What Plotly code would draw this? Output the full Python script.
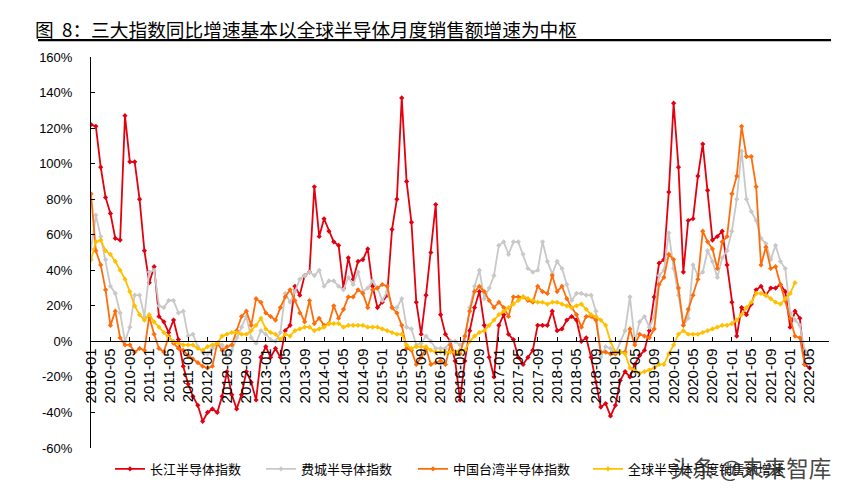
import plotly.graph_objects as go

# ---------------- data (monthly YoY growth, %) ----------------
TICK_LABELS = [
    "2010-01", "2010-05", "2010-09", "2011-01", "2011-05", "2011-09",
    "2012-01", "2012-05", "2012-09", "2013-01", "2013-05", "2013-09",
    "2014-01", "2014-05", "2014-09", "2015-01", "2015-05", "2015-09",
    "2016-01", "2016-05", "2016-09", "2017-01", "2017-05", "2017-09",
    "2018-01", "2018-05", "2018-09", "2019-01", "2019-05", "2019-09",
    "2020-01", "2020-05", "2020-09", "2021-01", "2021-05", "2021-09",
    "2022-01", "2022-05",
]

Y_TICK_VALUES = [-60, -40, -20, 0, 20, 40, 60, 80, 100, 120, 140, 160]
Y_TICK_TEXT = ["-60%", "-40%", "-20%", "0%", "20%", "40%", "60%", "80%",
               "100%", "120%", "140%", "160%"]

SERIES_NAMES = ["长江半导体指数", "费城半导体指数", "中国台湾半导体指数", "全球半导体月度销售额增速"]

changjiang = [
    122, 121, 98, 81, 72, 58, 57, 127, 101, 101, 80, 51, 33, 42, 14, 11, 5, 12, 1, -14,
    -24, -31, -36, -45, -40, -38, -40, -31, -17, -30, -38, -30, -17, -23, -33, -9, -3, -9, -4, -9,
    6, 9, 31, 26, 37, 39, 87, 59, 69, 62, 56, 54, 30, 47, 35, 45, 46, 52, 31, 19,
    22, 26, 63, 80, 137, 90, 67, 22, 4, 26, 50, 77, 15, 4, 0, -11, -33, -11, 6, 19,
    28, 9, -9, -20, 9, 15, 4, 1, -9, -13, -9, -5, 9, 9, 9, 17, 6, 7, 12, 14,
    12, 0, 2, -9, -23, -37, -35, -42, -36, -22, -17, -20, -13, -8, -5, 6, 25, 44, 46, 84,
    134, 98, 39, 68, 69, 93, 111, 85, 57, 59, 62, 43, 22, 3, 19, 15, 21, 29, 31, 26,
    30, 30, 32, 28, 8, 17, 13, -13, -15,
]

philly = [
    52, 71, 59, 46, 31, 27, 16, 0, 8, 26, 26, 14, 39, 40, 20, 19, 23, 23, 16, 17,
    3, 4, -3, -6, -7, -4, -1, -2, -9, -5, 2, 8, 14, 2, -1, 6, 4, 1, 0, 5,
    27, 22, 28, 35, 37, 39, 37, 40, 31, 34, 34, 31, 29, 36, 32, 39, 28, 30, 34, 30,
    23, 28, 19, 19, 24, 8, 7, -2, -1, 3, 0, -4, -4, -4, 0, 0, -2, 0, 19, 31,
    40, 24, 30, 37, 54, 56, 49, 56, 56, 49, 41, 39, 40, 56, 45, 38, 45, 41, 32, 23,
    27, 27, 26, 26, 17, -9, -3, -4, -7, 0, 6, 25, 0, 11, 14, 8, 14, 37, 40, 61,
    41, 26, 9, 13, 43, 37, 39, 51, 45, 36, 47, 51, 62, 80, 107, 80, 73, 68, 58, 55,
    46, 54, 45, 41, 16, 12, 9, -5, -9,
]

taiwan = [
    83, 51, 43, 29, 9, 17, 2, -2, -2, -6, -4, -5, 14, 4, -4, -6, 3, -1, -4, -5,
    -8, -10, -12, -14, -15, -14, -1, -5, -3, -2, 6, 14, 17, 9, 24, 22, 16, 14, 12, 19,
    25, 29, 23, 16, 11, 23, 10, 13, 9, 10, 20, 13, 18, 25, 25, 29, 27, 19, 29, 30,
    32, 31, 19, 16, 9, -4, -5, -13, -9, -4, -13, -12, -11, -13, -2, -7, -7, 3, 17, 28,
    31, 28, 23, 19, 22, 19, 14, 25, 25, 25, 23, 22, 31, 28, 27, 37, 28, 31, 24, 19,
    15, 8, 14, 14, 12, -6, -6, -7, -7, -6, -6, 7, -2, 4, 3, 2, 7, 32, 36, 49,
    46, 30, 9, 18, 26, 35, 62, 56, 52, 41, 56, 59, 83, 93, 121, 104, 104, 87, 43, 53,
    41, 42, 32, 23, 13, 3, 2, -13,
]

global_sales = [
    46, 56, 57, 51, 49, 45, 40, 35, 28, 20, 15, 12, 15, 11, 8, 5, 2, 0, -1, -2,
    -2, -2, -4, -5, -3, -2, -1, 3, 4, 5, 5, 4, 4, 6, 9, 13, 7, 5, 4, 1,
    4, 3, 6, 7, 8, 8, 6, 7, 8, 10, 10, 10, 8, 9, 9, 9, 9, 8, 8, 8,
    7, 6, 5, 4, 4, -2, -4, -3, -3, -3, -5, -6, -6, -6, -6, -6, -5, -5, 0, 3,
    5, 6, 9, 12, 15, 17, 19, 21, 23, 25, 24, 23, 22, 22, 21, 22, 22, 21, 20, 19,
    20, 21, 18, 15, 14, 12, 9, 0, -6, -6, -7, -15, -16, -18, -17, -16, -15, -13, -13, -7,
    -2, 4, 6, 4, 4, 4, 5, 6, 7, 8, 9, 9, 10, 12, 15, 19, 22, 27, 27, 26,
    24, 22, 21, 24, 27, 33,
]

COLORS = ["#E3000F", "#C8C8C8", "#FF6D0A", "#FFC000"]

# ---------------- figure ----------------
# The page body adds an 8px margin; the figure is sized and laid out so that
# on-screen positions match the 853x496 reference.
BODY = 8
W, H = 853 - BODY, 496 - BODY
PLOT_L, PLOT_R, PLOT_T, PLOT_B = 91, 829, 57, 451      # on-screen pixels
ML, MT = PLOT_L - BODY, PLOT_T - BODY
MR, MB = W - (PLOT_R - BODY), H - (PLOT_B - BODY)
PW, PH = PLOT_R - PLOT_L, PLOT_B - PLOT_T
Y_MIN, Y_MAX = -60, 160
X_MAX = 152


def px_to_paper_x(px):
    return (px - PLOT_L) / PW


def px_to_paper_y(py):
    return (PLOT_B - py) / PH


fig = go.Figure()
all_series = [changjiang, philly, taiwan, global_sales]
legend_names = ["legend", "legend2", "legend3", "legend4"]
for name, vals, color, lg in zip(SERIES_NAMES, all_series, COLORS, legend_names):
    fig.add_trace(go.Scatter(
        x=list(range(len(vals))), y=vals, name=name, mode="lines+markers",
        line=dict(color=color, width=1.8),
        marker=dict(symbol="diamond", size=4, color=color, line=dict(width=0)),
        legend=lg, showlegend=True,
    ))

tick_positions = [4 * i for i in range(len(TICK_LABELS))]

fig.update_layout(
    width=W, height=H, showlegend=True,
    margin=dict(l=ML, r=MR, t=MT, b=MB),
    paper_bgcolor="white", plot_bgcolor="white",
    font=dict(family="Liberation Sans, Arial, sans-serif", color="#000"),
    xaxis=dict(
        range=[0, X_MAX], tickmode="array", tickvals=tick_positions, ticktext=TICK_LABELS,
        tickangle=-90, showgrid=False, zeroline=False,
        showline=True, linecolor="black", linewidth=1,
        ticks="inside", ticklen=4, tickcolor="black",
        anchor="free", position=(0 - Y_MIN) / (Y_MAX - Y_MIN),
        tickfont=dict(size=15, family="Liberation Sans, Arial, sans-serif"),
    ),
    yaxis=dict(
        range=[Y_MIN, Y_MAX], tickmode="array", tickvals=Y_TICK_VALUES, ticktext=Y_TICK_TEXT,
        showgrid=False, zeroline=False, showline=True, linecolor="black", linewidth=1,
        ticks="inside", ticklen=4, tickcolor="black", ticklabelstandoff=15,
        tickfont=dict(size=13, family="Liberation Sans, Arial, sans-serif"),
    ),
)

legend_text_starts = [150, 301, 453, 628]
for lg, tx in zip(legend_names, legend_text_starts):
    fig.update_layout({lg: dict(
        x=px_to_paper_x(tx - 40), xanchor="left",
        y=px_to_paper_y(472), yanchor="middle",
        orientation="h", bgcolor="rgba(0,0,0,0)", borderwidth=0,
        font=dict(size=13, family="Noto Sans CJK SC", color="#000"),
        itemwidth=30, visible=True,
    )})

# title + underline
fig.add_annotation(
    text="图\u00a0\u00a08：三大指数同比增速基本以全球半导体月度销售额增速为中枢",
    xref="paper", yref="paper", x=px_to_paper_x(33), y=px_to_paper_y(28),
    xanchor="left", yanchor="middle", showarrow=False,
    font=dict(size=18.7, family="Noto Sans CJK SC", color="#000"),
)
fig.add_shape(
    type="line", xref="paper", yref="paper",
    x0=px_to_paper_x(38), x1=px_to_paper_x(831),
    y0=px_to_paper_y(40), y1=px_to_paper_y(40),
    line=dict(color="black", width=2.2),
)

# watermark
fig.add_annotation(
    text="头条 @未来智库", xref="paper", yref="paper",
    x=px_to_paper_x(668), y=px_to_paper_y(470), xanchor="left", yanchor="middle",
    showarrow=False, font=dict(size=22.5, family="Noto Sans CJK SC", color="rgba(45,45,45,0.9)"),
)

fig.write_html("out.html")
